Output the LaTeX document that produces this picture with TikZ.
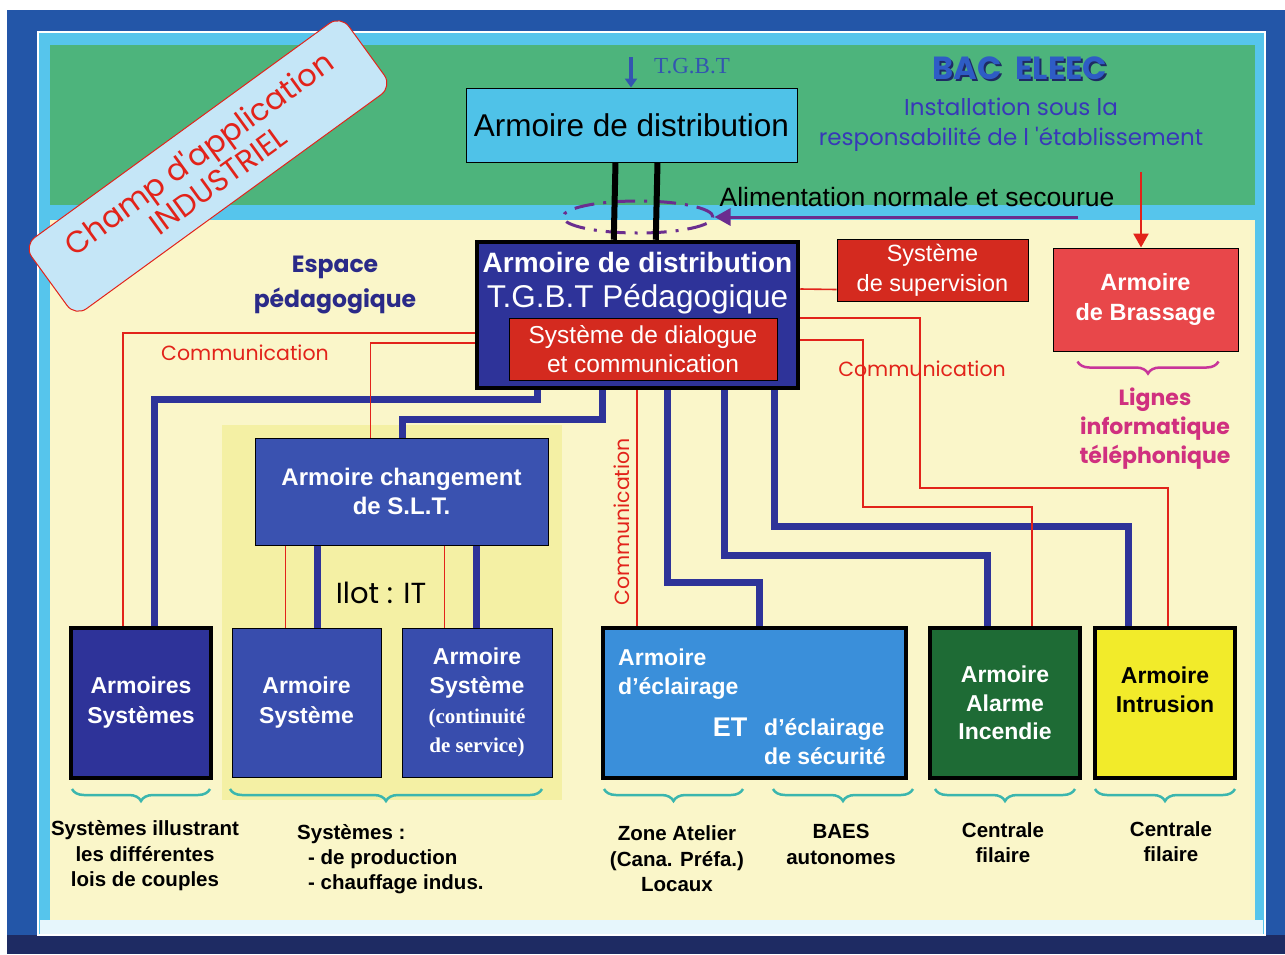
\documentclass[tikz,border=0pt]{standalone}
\usepackage{fontspec}
\setmainfont{Liberation Sans}
\newfontfamily\comicfont{Poppins}
\newfontfamily\timesfont{Liberation Serif}
\usepackage{tikz}
\usetikzlibrary{shapes,calc,positioning,arrows.meta,decorations.pathreplacing}
\definecolor{frameblue}{HTML}{2356A8}
\definecolor{navyband}{HTML}{1E2B63}
\definecolor{cyanband}{HTML}{56C5EC}
\definecolor{greenband}{HTML}{4DB47C}
\definecolor{bgyellow}{HTML}{FAF6C9}
\definecolor{hiyellow}{HTML}{F4F0A4}
\definecolor{boxcyan}{HTML}{4FC2E8}
\definecolor{darkbox}{HTML}{2E3399}
\definecolor{midbox}{HTML}{3A52B0}
\definecolor{skybox}{HTML}{3A8FDA}
\definecolor{greenbox}{HTML}{1E6B35}
\definecolor{yellowbox}{HTML}{F2EB2A}
\definecolor{redbox}{HTML}{D42A1F}
\definecolor{salmonbox}{HTML}{E8474A}
\definecolor{comred}{HTML}{E2231A}
\definecolor{linkblue}{HTML}{2E3399}
\definecolor{arrowblue}{HTML}{3355B0}
\definecolor{purplelink}{HTML}{6B2D8F}
\definecolor{titleblue}{HTML}{2E5CC5}
\definecolor{textblue}{HTML}{3838B8}
\definecolor{espblue}{HTML}{2A2A88}
\definecolor{magentatxt}{HTML}{D0307F}
\definecolor{bracemag}{HTML}{C8359A}
\definecolor{braceteal}{HTML}{3BB6AE}
\definecolor{bannerblue}{HTML}{C5E6F7}
\newcommand{\fsz}[2]{\fontsize{#1}{#2}\selectfont}

\begin{document}
\begin{tikzpicture}[x=1pt,y=-1pt]
\tikzstyle{box}=[draw=black,line width=1pt,inner sep=0pt,text=white,align=center]
\tikzstyle{heavy box}=[box,line width=4.5pt]
\tikzstyle{blue link}=[line width=7pt,color=linkblue]
\tikzstyle{com link}=[line width=1.6pt,color=comred]
\tikzstyle{teal brace}=[decorate,decoration={brace,amplitude=12pt},line width=2.5pt,color=braceteal]
\tikzstyle{txt}=[inner sep=0pt,align=center]
\useasboundingbox (0,0) rectangle (1285,954);
% frame and bands
\fill[white] (0,0) rectangle (1285,954);
\fill[frameblue] (7,10) rectangle (1285,954);
\fill[navyband] (7,935) rectangle (1285,954);
\filldraw[fill=cyanband,draw=white,line width=2pt] (38,32) rectangle (1265,935);
\fill[greenband] (50,45) rectangle (1255,205);
\fill[bgyellow] (50,220) rectangle (1255,920);
\fill[white!85!cyanband] (40,920) rectangle (1263,934);
\fill[hiyellow] (222,425) rectangle (562,800);

% boxes
\node[box,fill=boxcyan,text=black,minimum width=331pt,minimum height=74pt,font=\fsz{31.5}{36}] (tgbt) at (631.5,125) {Armoire de distribution};
\node[heavy box,fill=darkbox,minimum width=321pt,minimum height=146pt] (ctr) at (637.5,315) {};
\node[txt,text=white,font=\fsz{28}{35}] (ctrtxt) at (637.5,283) {\bfseries Armoire de distribution\\{\fsz{31.5}{35}T.G.B.T Pédagogique}};
\node[box,fill=redbox,minimum width=268pt,minimum height=62pt,font=\fsz{24.5}{29}] (dial) at (643,349) {Système de dialogue\\et communication};
\node[box,fill=redbox,minimum width=191pt,minimum height=62pt,font=\fsz{23.5}{30}] (sup) at (932.5,270) {Système\\de supervision};
\node[box,fill=salmonbox,minimum width=185pt,minimum height=103pt,font=\fsz{23.5}{30}\bfseries] (bras) at (1145.5,299.5) {Armoire\\de Brassage};
\node[box,fill=midbox,minimum width=293pt,minimum height=107pt,font=\fsz{24}{29}\bfseries] (slt) at (401.5,491.5) {Armoire changement\\de S.L.T.};
\node[heavy box,fill=darkbox,minimum width=140pt,minimum height=150pt,font=\fsz{23}{30}\bfseries] (asys) at (141,703) {Armoires\\Systèmes};
\node[box,fill=midbox!85!darkbox,minimum width=149pt,minimum height=149pt,font=\fsz{23}{30}\bfseries] (sys1) at (306.5,702.5) {Armoire\\Système};
\node[box,fill=midbox!85!darkbox,minimum width=150pt,minimum height=149pt,font=\fsz{23}{29.5}\bfseries] (sys2) at (477,702.5) {Armoire\\Système\\{\timesfont\fsz{21}{29.5}(continuité}\\{\timesfont\fsz{21}{29.5}de service)}};
\node[heavy box,fill=skybox,minimum width=303pt,minimum height=150pt] (ecl) at (754.5,703) {};
\node[txt,anchor=west,align=left,text=white,font=\fsz{23}{29}\bfseries] (ecla) at (618,674.5) {Armoire\\d'éclairage};
\node[txt,text=white,font=\fsz{27}{30}\bfseries] (eclet) at (730,727) {ET};
\node[txt,anchor=west,align=left,text=white,font=\fsz{23}{29}\bfseries] (eclb) at (764,741.5) {d'éclairage\\de sécurité};
\node[heavy box,fill=greenbox,minimum width=150pt,minimum height=150pt,font=\fsz{23}{28.5}\bfseries] (alarm) at (1005,703) {Armoire\\Alarme\\Incendie};
\node[heavy box,fill=yellowbox,minimum width=140pt,minimum height=150pt] (intr) at (1165,703) {};
\node[txt,text=black,font=\fsz{23}{28.5}\bfseries] (intrtxt) at (1165,690) {Armoire\\Intrusion};

% banner and titles
\node[draw=comred,line width=1pt,fill=bannerblue,rounded corners=14pt,rotate=36,minimum width=392pt,minimum height=88pt,text=comred,align=center,font=\comicfont\fsz{30.5}{33}] (champ) at (208,166) {Champ d'application\\INDUSTRIEL};
\node[txt,text=navyband,font=\comicfont\fsz{32}{36}\bfseries] (bacshadow) at (1022,70) {BAC\ \ ELEEC};
\node[txt,text=titleblue,font=\comicfont\fsz{32}{36}\bfseries] (bac) at (1020,68) {BAC\ \ ELEEC};
\node[txt,text=textblue,font=\comicfont\fsz{23}{30}] (resp) at (1011,125) {Installation sous la\\responsabilité de l 'établissement};
\node[txt,text=espblue,font=\comicfont\fsz{23.5}{35}\bfseries] (esp) at (335,285) {Espace\\pédagogique};
\node[txt,text=arrowblue,font=\timesfont\fsz{23}{26}] (tgbtlbl) at (692,66) {T.G.B.T};
\node[txt,text=black,font=\fsz{26.5}{30}] (alim) at (917,197) {Alimentation normale et secourue};
\node[draw=purplelink,line width=3pt,dash pattern=on 20pt off 9pt on 3pt off 9pt,ellipse,minimum width=150pt,minimum height=32pt] (ell) at (638,217) {};
\node[txt,text=comred,font=\comicfont\fsz{20.5}{24}] (com1) at (245,353) {Communication};
\node[txt,text=comred,font=\comicfont\fsz{20.5}{24}] (com2) at (922,369) {Communication};
\node[txt,text=comred,font=\comicfont\fsz{20.5}{24},rotate=90] (com3) at (622,522) {Communication};
\node[txt,text=black,font=\comicfont\fsz{29}{32}] (ilot) at (381,593) {Ilot : IT};
\node[txt,text=magentatxt,font=\comicfont\fsz{22}{29}\bfseries] (lig) at (1155,429) {Lignes\\informatique\\téléphonique};

% incoming arrows
\coordinate (tin) at (631,57);
\coordinate (rin) at (1141,172);
\coordinate (pin) at (1078,217);
\draw[-{Triangle[length=9pt,width=12pt]},line width=4pt,color=arrowblue] (tin) -- (tgbt.north -| tin);
\draw[-{Triangle[length=14pt,width=15pt]},line width=2.5pt,color=comred] (rin) -- (bras.north -| rin);
\draw[-{Triangle[length=16pt,width=17pt]},line width=3pt,color=purplelink] (pin) -- (ell.east);

% power lines
\draw[line width=6pt] ($(tgbt.south west)+(150,0)$) -- ($(ctr.north west)+(139,0)$);
\draw[line width=6pt] ($(tgbt.south west)+(192,0)$) -- ($(ctr.north west)+(181,0)$);
\draw[blue link] ($(ctr.south west)+(63,0)$) -- ++(0,9) -| ($(asys.north west)+(86,0)$);
\draw[blue link] ($(ctr.south west)+(128,0)$) -- ++(0,29) -| ($(slt.north west)+(148,0)$);
\draw[blue link] ($(ctr.south west)+(193,0)$) -- ++(0,192) -| ($(ecl.north west)+(159,0)$);
\draw[blue link] ($(ctr.south west)+(250,0)$) -- ++(0,165) -| ($(alarm.north west)+(60,0)$);
\draw[blue link] ($(ctr.south west)+(300,0)$) -- ++(0,136) -| ($(intr.north west)+(36,0)$);
\draw[blue link] ($(slt.south west)+(63,0)$) -- ($(sys1.north west)+(86,0)$);
\draw[blue link] ($(slt.south west)+(222,0)$) -- ($(sys2.north west)+(75,0)$);

% communication lines
\draw[com link] ($(ctr.west)+(0,18)$) -| ($(asys.north west)+(54,0)$);
\draw[com link] ($(ctr.west)+(0,28)$) -| ($(slt.north west)+(116,0)$);
\draw[com link] ($(ctr.east)+(0,-26)$) -- ($(sup.south west)+(0,-12)$);
\draw[com link] ($(ctr.east)+(0,3)$) -- ++(120,0) -- ++(0,170) -| ($(intr.north west)+(75,0)$);
\draw[com link] ($(ctr.east)+(0,25)$) -- ++(63,0) -- ++(0,167) -| ($(alarm.north west)+(104,0)$);
\draw[com link] ($(ctr.south west)+(162,0)$) -- ($(ecl.north west)+(36,0)$);
\draw[com link] ($(slt.south west)+(31,0)$) -- ($(sys1.north west)+(54,0)$);
\draw[com link] ($(slt.south west)+(190,0)$) -- ($(sys2.north west)+(43,0)$);

% braces and labels
\draw[decorate,decoration={brace,amplitude=12pt},line width=2.5pt,color=bracemag] ($(bras.south east)+(-20,10)$) -- ($(bras.south west)+(25,10)$);
\draw[teal brace] (210,789) -- (72,789);
\draw[teal brace] (542,789) -- (230,789);
\draw[teal brace] (743,789) -- (604,789);
\draw[teal brace] (913,789) -- (773,789);
\draw[teal brace] (1075,789) -- (935,789);
\draw[teal brace] (1235,789) -- (1095,789);
\node[txt,font=\fsz{20.5}{25.5}\bfseries] (lbl1) at (145,856) {Systèmes illustrant\\les différentes\\lois de couples};
\node[txt,anchor=west,align=left,font=\fsz{20.5}{25}\bfseries] (lbl2) at (297,859) {Systèmes :\\\hspace*{11pt}- de production\\\hspace*{11pt}- chauffage indus.};
\node[txt,font=\fsz{20.5}{25.5}\bfseries] (lbl3) at (677,859) {Zone Atelier\\(Cana. Préfa.)\\Locaux};
\node[txt,font=\fsz{20.5}{26}\bfseries] (lbl4) at (841,844) {BAES\\autonomes};
\node[txt,font=\fsz{20.5}{25}\bfseries] (lbl5) at (1003,843) {Centrale\\filaire};
\node[txt,font=\fsz{20.5}{25}\bfseries] (lbl6) at (1171,842) {Centrale\\filaire};
\end{tikzpicture}
\end{document}
